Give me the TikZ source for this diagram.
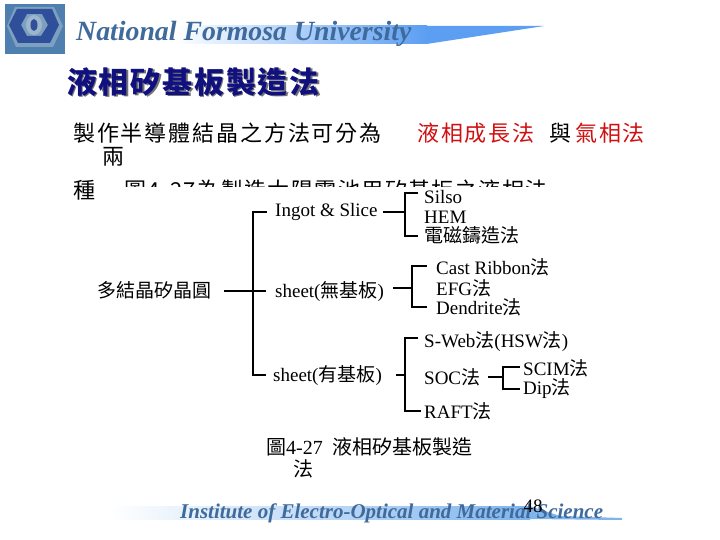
\documentclass[tikz,border=0pt]{standalone}
\usepackage{fontspec}
\setmainfont{Liberation Serif}
\newfontfamily\tcfont{Noto Sans CJK TC}
\newcommand{\tc}[1]{{\tcfont #1}}
\usetikzlibrary{calc}
\definecolor{navy1}{HTML}{10107F}
\definecolor{steel}{HTML}{3F6A9C}
\definecolor{barblue}{HTML}{5C9EF2}
\definecolor{footblue}{HTML}{7FB4EC}
\definecolor{logobg}{HTML}{4F7FAE}
\definecolor{logodk}{HTML}{2F4F9A}
\definecolor{logolt}{HTML}{9DB6CC}
\definecolor{redtxt}{HTML}{D01010}
\tikzset{
  lbl/.style={inner sep=0pt,anchor=west,font=\fontsize{19}{19}\selectfont},
  body/.style={inner sep=0pt,anchor=west,font=\fontsize{22}{22}\tcfont\addfontfeature{LetterSpace=8.5}},
  captxt/.style={inner sep=0pt,anchor=west,font=\fontsize{20}{20}\selectfont},
  brand/.style={inner sep=0pt,anchor=west,text=steel,font=\fontsize{27.8}{27.8}\bfseries\itshape},
  ttl/.style={inner sep=0pt,anchor=west,font=\fontsize{30}{30}\tcfont\bfseries\addfontfeature{LetterSpace=6}},
  conn/.style={line width=2.6pt,line cap=butt,line join=miter},
  thinconn/.style={line width=2pt}
}
\begin{document}
\begin{tikzpicture}[x=1pt,y=-1pt]
\useasboundingbox (0,0) rectangle (720,540);
\fill[white] (0,0) rectangle (720,540);
% header bar
\shade[left color=white,right color=barblue,shading angle=90] (175,26) rectangle (427,44);
\fill[barblue] (426.5,26) -- (544,26) -- (426.5,44) -- cycle;
% logo
\fill[logobg] (5,4) rectangle (65,54);
\fill[logolt!60!logobg] (15,7) -- (54,7) -- (63,26) -- (53,47) -- (16,47) -- (7,26) -- cycle;
\fill[logodk,even odd rule] (9,25) -- (17,9) -- (52,9) -- (59,25) -- (50,43) -- (18,43) -- cycle
   (21,25) -- (27,14) -- (42,14) -- (48,25) -- (41,36) -- (27,36) -- cycle;
\fill[logolt] (34,25) ellipse (8 and 10);
\fill[logodk] (34,25) ellipse (3.5 and 6);
\node[brand] (brandtop) at (76,34) {National Formosa University};
% title
\node[ttl,text=black!55] (titleshadow) at (68.5,83.5) {液相矽基板製造法};
\node[ttl,text=navy1] (title) at (67,82) {液相矽基板製造法};
% body
\node[body] (l1) at (73,133) {製作半導體結晶之方法可分為};
\node[body,text=redtxt] (l1b) at (417,133) {液相成長法};
\node[body] (l1c) at (549,133) {與};
\node[body,text=redtxt] (l1d) at (575,133) {氣相法};
\node[body] (l2) at (102,157) {兩};
\node[body] (l3) at (73,190) {種};
\begin{scope}
\clip (100,170) rectangle (600,187);
\node[inner sep=0pt,anchor=west,font=\fontsize{22}{22}\tcfont\addfontfeature{LetterSpace=6.5}] (l3b) at (124,190) {圖4-27為製造太陽電池用矽基板之液相法};
\end{scope}
% diagram labels
\node[lbl] (root) at (97,290.5) {\tc{多結晶矽晶圓}};
\node[lbl] (ingot) at (275,212) {Ingot \& Slice};
\node[lbl] (sheeta) at (275,291) {sheet(\tc{無基板})};
\node[lbl] (sheetb) at (273,376) {sheet(\tc{有基板})};
\node[lbl] (silso) at (424,197) {Silso};
\node[lbl] (hem) at (424,217) {HEM};
\node[lbl] (emc) at (424,235) {\tc{電磁鑄造法}};
\node[lbl] (cast) at (436,267) {Cast Ribbon\tc{法}};
\node[lbl] (efg) at (436,288) {EFG\tc{法}};
\node[lbl] (dend) at (436,307) {Dendrite\tc{法}};
\node[lbl] (sweb) at (424,342) {S-Web\tc{法}(HSW\tc{法})};
\node[lbl] (soc) at (424,377) {SOC\tc{法}};
\node[lbl] (raft) at (424,411) {RAFT\tc{法}};
\node[lbl] (scim) at (523,368) {SCIM\tc{法}};
\node[lbl] (dip) at (523,389) {Dip\tc{法}};
% connectors
\coordinate (tr) at (253,290);
\draw[conn] ($(ingot.west)+(-8,0)$) -| (tr) |- ($(sheetb.west)+(-7,-1)$);
\draw[thinconn] ($(root.east)+(13,0)$) -- ($(sheeta.west)+(-9,-0.5)$);
\coordinate (b1) at (405,212);
\draw[thinconn] ($(ingot.east)+(5,0)$) -- (b1);
\draw[conn] ($(silso.west)+(-6,-4)$) -| (b1) |- ($(emc.west)+(-6,1)$);
\coordinate (b2) at (412,288);
\draw[conn] ($(sheeta.east)+(9,-3)$) -- (b2);
\draw[conn] ($(cast.west)+(-9,-1)$) -| (b2) |- ($(dend.west)+(-9,0)$);
\coordinate (b3) at (405,375);
\draw[conn] ($(sheetb.east)+(14,-1)$) -- (b3);
\draw[conn] ($(sweb.west)+(-6,-4)$) -| (b3) |- ($(raft.west)+(-3,0)$);
\coordinate (b4) at (503,377);
\draw[thinconn] ($(soc.east)+(8,0)$) -- (b4);
\draw[conn] ($(scim.west)+(-3,-1)$) -| (b4) |- ($(dip.west)+(-3,0)$);
% caption
\node[captxt] (c1) at (266,447) {\tc{圖}4-27\ \ \tc{液相矽基板製造}};
\node[captxt] (c2) at (293,469) {\tc{法}};
% footer
\shade[left color=white,right color=footblue,shading angle=90] (110,506) rectangle (530,519);
\fill[footblue] (529.5,506) -- (560,516) -- (622,518) -- (622,520) -- (529.5,519) -- cycle;
\node[brand,font=\fontsize{21}{21}\bfseries\itshape] (foot) at (180,513.5) {Institute of Electro-Optical and Material Science};
\node[inner sep=0pt,font=\fontsize{19}{19}\selectfont] (page) at (533,506) {48};
\end{tikzpicture}
\end{document}
